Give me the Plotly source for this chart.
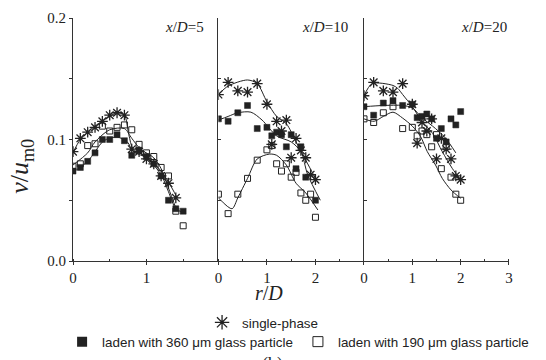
import plotly.graph_objects as go

# ---------------- data ----------------
# Panel x/D=5
r1_sp = [0, 0.1, 0.2, 0.3, 0.4, 0.5, 0.6, 0.7, 0.8, 0.9, 1.0, 1.1, 1.2, 1.3, 1.4]
v1_sp = [0.090, 0.101, 0.106, 0.110, 0.115, 0.120, 0.122, 0.120, 0.092, 0.090, 0.084, 0.080, 0.070, 0.064, 0.052]
r1_p = [0, 0.1, 0.2, 0.3, 0.4, 0.5, 0.6, 0.7, 0.8, 0.9, 1.0, 1.1, 1.2, 1.3, 1.4, 1.5]
v1_360 = [0.074, 0.077, 0.082, 0.089, 0.100, 0.100, 0.104, 0.099, 0.087, 0.091, 0.086, 0.080, 0.070, 0.050, 0.043, 0.041]
v1_190 = [0.078, 0.080, 0.095, 0.0965, 0.111, 0.107, 0.110, 0.112, 0.108, 0.096, 0.089, 0.086, 0.077, 0.070, 0.041, 0.029]
f1_sp_r = [0, 0.1, 0.3, 0.5, 0.6, 0.7, 0.76, 0.82, 1.0, 1.2, 1.3, 1.42]
f1_sp_v = [0.089, 0.100, 0.111, 0.119, 0.122, 0.120, 0.104, 0.092, 0.086, 0.074, 0.065, 0.052]
f1_360_r = [0, 0.2, 0.3, 0.42, 0.6, 0.74, 0.82, 1.0, 1.2, 1.3, 1.4, 1.5]
f1_360_v = [0.073, 0.082, 0.090, 0.099, 0.102, 0.098, 0.090, 0.085, 0.071, 0.057, 0.043, 0.040]
f1_190_r = [0, 0.2, 0.3, 0.5, 0.7, 0.8, 0.92, 1.1, 1.2, 1.3, 1.41]
f1_190_v = [0.079, 0.089, 0.098, 0.108, 0.109, 0.101, 0.092, 0.085, 0.076, 0.060, 0.042]

# Panel x/D=10
r2_sp = [0, 0.2, 0.4, 0.6, 0.8, 1.0, 1.1, 1.2, 1.3, 1.4, 1.5, 1.6, 1.7, 1.8, 1.9, 2.0]
v2_sp = [0.137, 0.147, 0.140, 0.139, 0.146, 0.129, 0.096, 0.115, 0.107, 0.116, 0.085, 0.101, 0.091, 0.085, 0.071, 0.067]
r2_360 = [0, 0.2, 0.4, 0.6, 0.8, 1.0, 1.1, 1.2, 1.3, 1.4, 1.5, 1.6, 1.7, 1.8, 2.0]
v2_360 = [0.117, 0.115, 0.122, 0.128, 0.109, 0.110, 0.103, 0.106, 0.104, 0.094, 0.104, 0.076, 0.094, 0.069, 0.050]
r2_190 = [0, 0.2, 0.4, 0.6, 0.8, 1.0, 1.1, 1.2, 1.3, 1.4, 1.5, 1.6, 1.7, 1.8, 1.9, 2.0]
v2_190 = [0.055, 0.039, 0.055, 0.068, 0.083, 0.0915, 0.095, 0.080, 0.074, 0.080, 0.069, 0.073, 0.056, 0.050, 0.055, 0.036]
f2_sp_r = [0, 0.2, 0.6, 0.8, 1.0, 1.2, 1.4, 1.6, 1.8, 2.0]
f2_sp_v = [0.137, 0.144, 0.149, 0.146, 0.131, 0.119, 0.113, 0.098, 0.083, 0.068]
f2_360_r = [0, 0.2, 0.4, 0.67, 0.9, 1.2, 1.5, 1.7, 1.84, 2.1]
f2_360_v = [0.116, 0.119, 0.122, 0.1225, 0.116, 0.103, 0.098, 0.090, 0.071, 0.050]
f2_190_r = [0, 0.28, 0.4, 0.6, 0.8, 1.05, 1.2, 1.4, 1.6, 1.8, 2.05]
f2_190_v = [0.052, 0.043, 0.052, 0.068, 0.084, 0.088, 0.087, 0.079, 0.064, 0.056, 0.042]

# Panel x/D=20
r3 = [0, 0.2, 0.4, 0.6, 0.8, 1.0, 1.1, 1.2, 1.3, 1.4, 1.5, 1.6, 1.7, 1.8, 1.9, 2.0]
v3_sp = [0.136, 0.147, 0.140, 0.139, 0.146, 0.129, 0.097, 0.114, 0.107, 0.117, 0.084, 0.101, 0.092, 0.084, 0.070, 0.067]
v3_360 = [0.127, 0.120, 0.130, 0.132, 0.128, 0.129, 0.118, 0.119, 0.121, 0.117, 0.101, 0.109, 0.098, 0.117, 0.112, 0.123]
v3_190 = [0.117, 0.114, 0.122, 0.127, 0.109, 0.110, 0.103, 0.107, 0.104, 0.094, 0.104, 0.076, 0.094, 0.069, 0.055, 0.050]
f3_sp_r = [0, 0.17, 0.6, 0.7, 0.8, 1.0, 1.2, 1.42, 1.62, 1.83, 2.0]
f3_sp_v = [0.136, 0.146, 0.1445, 0.142, 0.137, 0.127, 0.115, 0.105, 0.090, 0.076, 0.067]
f3_360_r = [0, 0.4, 0.8, 1.0, 1.2, 1.48, 1.69, 1.9]
f3_360_v = [0.127, 0.128, 0.128, 0.126, 0.118, 0.109, 0.101, 0.089]
f3_190_r = [0, 0.21, 0.4, 0.6, 0.8, 1.0, 1.17, 1.31, 1.48, 1.62, 1.8, 2.0]
f3_190_v = [0.117, 0.115, 0.119, 0.1225, 0.1176, 0.111, 0.1025, 0.090, 0.079, 0.068, 0.0585, 0.0516]

x1_ticks = [0, 1]
x2_ticks = [0, 1, 2]
x3_ticks = [0, 1, 2, 3]
y_ticks = [0.0, 0.1, 0.2]

panel_labels = ["<i>x</i>/<i>D</i>=5", "<i>x</i>/<i>D</i>=10", "<i>x</i>/<i>D</i>=20"]
legend_names = ["single-phase", "laden with 360 \u03bcm glass particle", "laden with 190 \u03bcm glass particle"]

# ---------------- figure ----------------
INK = "#222222"
SERIF = "Liberation Serif"
SANS = "Liberation Sans"

fig = go.Figure()

panels = [
    ("x", "y", (f1_sp_r, f1_sp_v), (f1_360_r, f1_360_v), (f1_190_r, f1_190_v),
     (r1_sp, v1_sp), (r1_p, v1_360), (r1_p, v1_190)),
    ("x2", "y2", (f2_sp_r, f2_sp_v), (f2_360_r, f2_360_v), (f2_190_r, f2_190_v),
     (r2_sp, v2_sp), (r2_360, v2_360), (r2_190, v2_190)),
    ("x3", "y3", (f3_sp_r, f3_sp_v), (f3_360_r, f3_360_v), (f3_190_r, f3_190_v),
     (r3, v3_sp), (r3, v3_360), (r3, v3_190)),
]

sp_marker = dict(symbol="asterisk-open", size=9, color=INK, line=dict(color=INK, width=1.3))
m360 = dict(symbol="square", size=6, color=INK, line=dict(color=INK, width=0.5))
m190 = dict(symbol="square-open", size=6, color=INK, line=dict(color=INK, width=1))

for xa, ya, fsp, f360, f190, dsp, d360, d190 in panels:
    for fr, fv in (fsp, f360, f190):
        fig.add_trace(go.Scatter(x=fr, y=fv, mode="lines", xaxis=xa, yaxis=ya,
                                 line=dict(color=INK, width=1, shape="spline", smoothing=0.8),
                                 showlegend=False, hoverinfo="skip"))
    fig.add_trace(go.Scatter(x=dsp[0], y=dsp[1], mode="markers", xaxis=xa, yaxis=ya,
                             marker=sp_marker, showlegend=False))
    fig.add_trace(go.Scatter(x=d360[0], y=d360[1], mode="markers", xaxis=xa, yaxis=ya,
                             marker=m360, showlegend=False))
    fig.add_trace(go.Scatter(x=d190[0], y=d190[1], mode="markers", xaxis=xa, yaxis=ya,
                             marker=m190, showlegend=False))

# legend entries
fig.add_trace(go.Scatter(x=[None], y=[None], mode="markers", name=legend_names[0],
                         marker=dict(symbol="asterisk-open", size=12, color=INK,
                                     line=dict(color=INK, width=1.3)),
                         legend="legend"))
fig.add_trace(go.Scatter(x=[None], y=[None], mode="markers", name=legend_names[1],
                         marker=dict(symbol="square", size=10, color=INK), legend="legend2"))
fig.add_trace(go.Scatter(x=[None], y=[None], mode="markers", name=legend_names[2],
                         marker=dict(symbol="square-open", size=10, color=INK,
                                     line=dict(color=INK, width=1)), legend="legend2"))

axis_common = dict(showline=True, linecolor="#333333", linewidth=1, showgrid=False,
                   zeroline=False, ticks="outside", ticklen=3, tickcolor="#333333",
                   tickfont=dict(family=SERIF, size=15, color=INK))

d1 = [0.0, 0.3335]
d2 = [0.3335, 0.6674]
d3 = [0.6674, 1.0]

xminor = dict(dtick=0.5, tick0=0, ticks="inside", ticklen=2, tickcolor="#333333", showgrid=False)

fig.update_layout(
    width=546, height=360,
    margin=dict(l=65, r=45, t=10, b=107, autoexpand=False),
    paper_bgcolor="white", plot_bgcolor="white",
    xaxis=dict(axis_common, domain=d1, range=[0, 1.98], tickmode="array", tickvals=x1_ticks,
               anchor="y", minor=xminor),
    xaxis2=dict(axis_common, domain=d2, range=[0, 3], tickmode="array", tickvals=x2_ticks,
                anchor="y2", minor=xminor),
    xaxis3=dict(axis_common, domain=d3, range=[0, 3], tickmode="array", tickvals=x3_ticks,
                anchor="y3", minor=xminor),
    yaxis=dict(axis_common, range=[0, 0.2], tickmode="array", tickvals=y_ticks, tickformat=".1f",
               anchor="x",
               minor=dict(dtick=0.05, tick0=0, ticks="outside", ticklen=3, tickcolor="#333333", showgrid=False)),
    yaxis2=dict(axis_common, range=[0, 0.2], dtick=0.05, tick0=0, anchor="x2", ticks="inside",
                showticklabels=False),
    yaxis3=dict(axis_common, range=[0, 0.2], dtick=0.05, tick0=0, anchor="x3", ticks="inside",
                showticklabels=False),
    legend=dict(x=0.296, y=-0.2535, xanchor="left", yanchor="middle", orientation="h",
                font=dict(family=SANS, size=13.4, color=INK), bgcolor="rgba(0,0,0,0)",
                itemwidth=30),
    legend2=dict(x=-0.025, y=-0.333, xanchor="left", yanchor="middle", orientation="h",
                 font=dict(family=SANS, size=13.4, color=INK), bgcolor="rgba(0,0,0,0)",
                 itemwidth=30),
)

ann = []
for xa, lab, xr in (("x", panel_labels[0], 1.81), ("x2", panel_labels[1], 2.72), ("x3", panel_labels[2], 2.99)):
    ann.append(dict(x=xr, y=0.193, xref=xa, yref="y", text=lab, showarrow=False,
                    xanchor="right", yanchor="middle",
                    font=dict(family=SERIF, size=15, color=INK)))
ann.append(dict(x=-0.119, y=0.388, xref="paper", yref="paper", textangle=-90,
                text="<i>v</i>/<i>u</i><sub>m0</sub>", showarrow=False,
                xanchor="center", yanchor="middle",
                font=dict(family=SERIF, size=26, color=INK)))
ann.append(dict(x=0.45, y=-0.131, xref="paper", yref="paper", text="<i>r</i>/<i>D</i>",
                showarrow=False, xanchor="center", yanchor="middle",
                font=dict(family=SERIF, size=20, color=INK)))
ann.append(dict(x=0.458, y=-0.375, xref="paper", yref="paper", text="(b)",
                showarrow=False, xanchor="center", yanchor="top",
                font=dict(family=SERIF, size=18, color=INK)))
fig.update_layout(annotations=ann)

fig.write_html("out.html")
